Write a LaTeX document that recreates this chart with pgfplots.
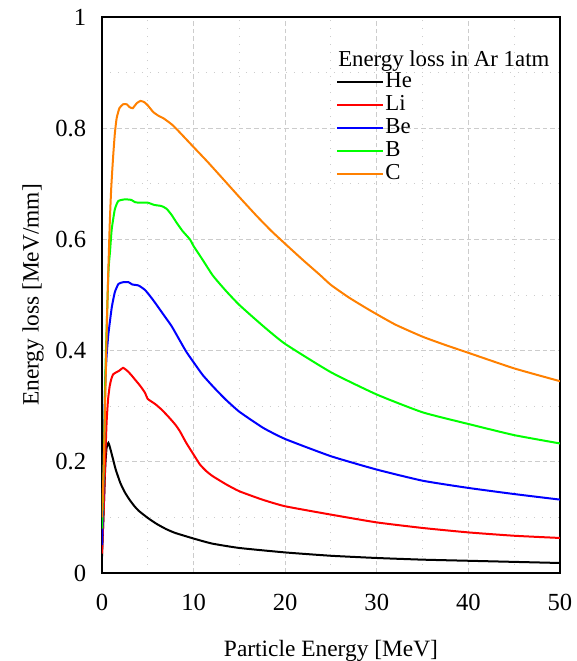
\documentclass[border=0pt]{standalone}
\usepackage{fontspec}
\setmainfont{Liberation Serif}
\usepackage{pgfplots}
\pgfplotsset{compat=1.18}
\definecolor{cHe}{RGB}{0,0,0}
\definecolor{cLi}{RGB}{255,0,0}
\definecolor{cBe}{RGB}{0,0,255}
\definecolor{cB}{RGB}{0,255,0}
\definecolor{cC}{RGB}{255,128,0}
\begin{document}
\begin{tikzpicture}
\useasboundingbox (-51pt,-44pt) rectangle (237.5pt,286.5pt);
\begin{axis}[
  at={(0,0)}, anchor=south west,
  width=229pt, height=278pt, scale only axis,
  xmin=0, xmax=50, ymin=0, ymax=1,
  xtick={0,10,20,30,40,50},
  ytick={0,0.2,0.4,0.6,0.8,1},
  minor x tick num=1, minor y tick num=1,
  grid=both,
  major grid style={dash pattern=on 2.3pt off 1.5pt, black!20, line width=0.5pt},
  minor grid style={dash pattern=on 0.6pt off 3.4pt, black!20, line width=0.5pt},
  major tick length=0pt, minor tick length=0pt,
  axis line style={line width=0.65pt},
  /pgf/number format/assume math mode=true,
  tick label style={font=\fontsize{12.3}{14}\selectfont},
  yticklabel style={/pgf/number format/fixed, /pgf/number format/precision=1, xshift=-4.4pt},
  xticklabel style={yshift=-7pt},
  label style={font=\fontsize{11.7}{14}\selectfont},
  xlabel={Particle Energy [MeV]},
  ylabel={Energy loss [MeV/mm]},
  xlabel style={at={(axis description cs:0.5,-0.151)}, anchor=base},
  ylabel style={at={(axis description cs:-0.1385,0.5)}, anchor=base},
  legend style={at={(rel axis cs:0.511,0.904)}, anchor=north west, draw=none, fill=none,
    inner sep=0pt, row sep=0pt, font=\fontsize{11.4}{13}\selectfont,
    nodes={inner sep=0.5pt, text height=8pt, text depth=2.5pt}},
  legend cell align=left,
  legend image code/.code={\draw[#1, line width=1pt] (0pt,0pt) -- (23pt,0pt);},
  every axis plot/.append style={line width=1pt, smooth, tension=0.3},
]
\addplot[cHe] coordinates {(0,0.03) (0.2,0.12) (0.35,0.19) (0.5,0.225) (0.7,0.234) (0.9,0.224) (1.2,0.205) (1.5,0.186) (2,0.162) (2.5,0.145) (3,0.132) (3.5,0.121) (4,0.112) (5,0.099) (6,0.088) (7,0.079) (8,0.072) (10,0.062) (12,0.053) (15,0.045) (20,0.037) (25,0.031) (30,0.027) (35,0.024) (40,0.022) (45,0.020) (50,0.018)};
\addlegendentry{He}
\addplot[cLi] coordinates {(0,0.035) (0.2,0.12) (0.35,0.2) (0.5,0.27) (0.66,0.312) (0.84,0.336) (1.0,0.348) (1.2,0.357) (1.56,0.361) (1.9,0.364) (2.3,0.369) (2.8,0.363) (3.2,0.356) (3.6,0.348) (4.2,0.336) (4.7,0.324) (5,0.313) (5.8,0.304) (6.5,0.294) (7.2,0.282) (8,0.267) (8.5,0.255) (9.2,0.234) (10,0.213) (10.7,0.195) (11.4,0.183) (12.1,0.174) (13.6,0.159) (15,0.147) (17.5,0.132) (20,0.12) (25,0.105) (30,0.091) (35,0.081) (40,0.073) (45,0.067) (50,0.063)};
\addlegendentry{Li}
\addplot[cBe] coordinates {(0,0.05) (0.15,0.15) (0.33,0.33) (0.5,0.39) (0.7,0.43) (1.06,0.477) (1.4,0.505) (1.8,0.52) (2.3,0.523) (2.9,0.523) (3.3,0.519) (4,0.517) (4.7,0.509) (5.3,0.497) (5.8,0.486) (6.7,0.465) (7.6,0.444) (8.5,0.418) (9.2,0.398) (10,0.379) (11,0.356) (12.2,0.334) (13.5,0.312) (15,0.29) (17.6,0.261) (20,0.241) (25,0.21) (30,0.186) (35,0.166) (40,0.153) (45,0.142) (50,0.132)};
\addlegendentry{Be}
\addplot[cB] coordinates {(0,0.08) (0.2,0.2) (0.4,0.38) (0.7,0.54) (0.87,0.577) (1.06,0.618) (1.4,0.654) (1.78,0.669) (2.5,0.672) (3.2,0.671) (3.6,0.667) (4.1,0.666) (5,0.666) (5.7,0.662) (6.5,0.66) (7.06,0.655) (7.6,0.644) (8.15,0.63) (8.8,0.615) (9.6,0.6) (10,0.588) (11,0.563) (12.1,0.535) (13.5,0.508) (15,0.482) (17.6,0.444) (20,0.412) (25,0.361) (30,0.321) (35,0.289) (40,0.268) (45,0.248) (50,0.233)};
\addlegendentry{B}
\addplot[cC] coordinates {(0,0.1) (0.2,0.2) (0.4,0.35) (0.55,0.46) (0.7,0.55) (0.85,0.63) (1.0,0.69) (1.2,0.745) (1.4,0.79) (1.6,0.818) (1.9,0.836) (2.3,0.843) (2.7,0.843) (3.0,0.838) (3.35,0.836) (3.8,0.845) (4.2,0.849) (4.6,0.847) (5,0.841) (5.6,0.829) (6.2,0.822) (6.7,0.818) (7.75,0.805) (8.8,0.787) (10,0.766) (11.5,0.74) (13.2,0.709) (15,0.676) (16.9,0.642) (18.5,0.615) (20.2,0.589) (22,0.562) (23.8,0.536) (25,0.518) (27,0.495) (29.3,0.472) (32,0.447) (35,0.425) (37.5,0.41) (40,0.396) (45,0.368) (50,0.345)};
\addlegendentry{C}
\node[anchor=base west, font=\fontsize{11.4}{13}\selectfont, inner sep=0pt] at (rel axis cs:0.515,0.9106) {Energy loss in Ar 1atm};
\end{axis}
\end{tikzpicture}
\end{document}
